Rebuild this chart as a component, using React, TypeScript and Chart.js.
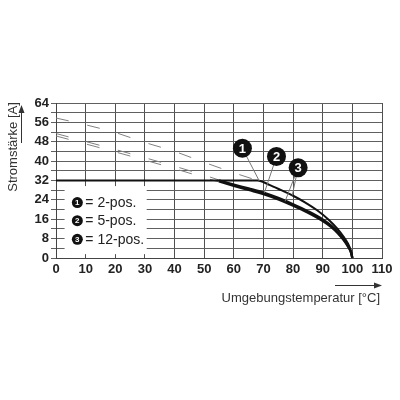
import React, { useEffect, useRef } from "react";
import { Chart, registerables } from "chart.js";

Chart.register(...registerables);

// Curve 1 (2-pos.)
const temp1 = [0, 68, 72, 76, 80, 84, 88, 92, 95, 97, 98.5, 99.5, 100];
const amp1 = [32, 32, 30.2, 28, 25.7, 23, 19.8, 15.8, 12, 8.8, 6, 3, 0];
// Curves 2 (5-pos.) and 3 (12-pos.)
const temp23 = [55, 60, 65, 70, 75, 80, 85, 90, 93, 95, 97, 98.5, 99.5, 100];
const amp2 = [32, 30.3, 28.7, 27, 24.8, 22.2, 19.3, 15.9, 13.2, 10.8, 7.8, 5, 2.5, 0];
const amp3 = [31.6, 29.8, 28.1, 26.4, 24.2, 21.6, 18.7, 15.3, 12.7, 10.4, 7.5, 4.8, 2.4, 0];
// Dashed (unrestricted) continuations
const dashTemp1 = [0, 10, 20, 30, 40, 50, 60, 68];
const dashAmp1 = [57.8, 55, 51.8, 47.7, 44, 39.5, 35.2, 32];
const dashTemp23 = [0, 10, 20, 30, 40, 50, 55];
const dashAmp2 = [51.4, 48.1, 44.8, 41.4, 37.9, 34.2, 32.2];
const dashAmp3 = [50.4, 47.1, 43.8, 40.4, 36.9, 33.2, 31.4];

const legendNums = ["1", "2", "3"];
const legendLabels = ["= 2-pos.", "= 5-pos.", "= 12-pos."];
const xTitle = "Umgebungstemperatur [°C]";
const yTitle = "Stromstärke [A]";

// annotation anchors (data units)
const legendBox = { x0: 2.9, x1: 30.6, y0: 1.6, y1: 29.7 };
const legendAnchorX = 7.2;
const legendAnchorY = [22.9, 15.4, 7.7];
const callouts = [
  { n: "1", cx: 62.9, cy: 45.3, targets: [[68.6, 31.8]] },
  { n: "2", cx: 74.4, cy: 41.9, targets: [[70.3, 26.9]] },
  { n: "3", cx: 81.7, cy: 37.3, targets: [[77.3, 23.4], [79.7, 25.8]] },
];

const pts = (xs: number[], ys: number[]) => xs.map((x, i) => ({ x, y: ys[i] }));

const decor = {
  id: "decor",
  beforeDatasetsDraw(chart: any) {
    const { ctx, scales } = chart;
    const x = scales.x, y = scales.y;
    ctx.save();
    ctx.fillStyle = "#fff";
    const l = x.getPixelForValue(legendBox.x0);
    const r = x.getPixelForValue(legendBox.x1);
    const t = y.getPixelForValue(legendBox.y1);
    const b = y.getPixelForValue(legendBox.y0);
    ctx.fillRect(l, t, r - l, b - t);
    legendNums.forEach((n, i) => {
      const cx = x.getPixelForValue(legendAnchorX);
      const cy = y.getPixelForValue(legendAnchorY[i]);
      ctx.beginPath();
      ctx.fillStyle = "#111";
      ctx.arc(cx, cy, 5.5, 0, Math.PI * 2);
      ctx.fill();
      ctx.fillStyle = "#fff";
      ctx.font = "bold 8px 'Liberation Sans'";
      ctx.textAlign = "center";
      ctx.textBaseline = "middle";
      ctx.fillText(n, cx, cy + 0.5);
      ctx.fillStyle = "#222";
      ctx.font = "14px 'Liberation Sans'";
      ctx.textAlign = "left";
      ctx.fillText(legendLabels[i], cx + 8, cy + 0.5);
    });
    ctx.restore();
  },
  afterDatasetsDraw(chart: any) {
    const { ctx, scales } = chart;
    const x = scales.x, y = scales.y;
    ctx.save();
    callouts.forEach((c) => {
      const cx = x.getPixelForValue(c.cx);
      const cy = y.getPixelForValue(c.cy);
      ctx.strokeStyle = "#777";
      ctx.lineWidth = 1;
      c.targets.forEach(([tx, ty]) => {
        ctx.beginPath();
        ctx.moveTo(cx, cy);
        ctx.lineTo(x.getPixelForValue(tx), y.getPixelForValue(ty));
        ctx.stroke();
      });
      ctx.beginPath();
      ctx.fillStyle = "#111";
      ctx.arc(cx, cy, 9.5, 0, Math.PI * 2);
      ctx.fill();
      ctx.fillStyle = "#fff";
      ctx.font = "bold 13px 'Liberation Sans'";
      ctx.textAlign = "center";
      ctx.textBaseline = "middle";
      ctx.fillText(c.n, cx, cy + 1);
    });
    ctx.restore();
  },
  afterDraw(chart: any) {
    const { ctx } = chart;
    ctx.save();
    ctx.fillStyle = "#333";
    ctx.strokeStyle = "#333";
    ctx.font = "13px 'Liberation Sans'";
    // y title
    ctx.save();
    ctx.translate(13, 147);
    ctx.rotate(-Math.PI / 2);
    ctx.textAlign = "center";
    ctx.textBaseline = "middle";
    ctx.fillText(yTitle, 0, 0);
    ctx.restore();
    ctx.lineWidth = 1;
    ctx.beginPath();
    ctx.moveTo(21.5, 143);
    ctx.lineTo(21.5, 112);
    ctx.stroke();
    ctx.beginPath();
    ctx.moveTo(21.5, 105);
    ctx.lineTo(18.5, 113);
    ctx.lineTo(24.5, 113);
    ctx.closePath();
    ctx.fill();
    // x title
    ctx.textAlign = "right";
    ctx.textBaseline = "middle";
    ctx.fillText(xTitle, 380, 298);
    ctx.beginPath();
    ctx.moveTo(335, 285.5);
    ctx.lineTo(375, 285.5);
    ctx.stroke();
    ctx.beginPath();
    ctx.moveTo(382, 285.5);
    ctx.lineTo(374, 282.5);
    ctx.lineTo(374, 288.5);
    ctx.closePath();
    ctx.fill();
    ctx.restore();
  },
};

export default function App() {
  const ref = useRef<HTMLCanvasElement>(null);
  useEffect(() => {
    if (!ref.current) return;
    const dashStyle = { borderColor: "#808080", borderWidth: 1, borderDash: [13, 19], order: 2 };
    const chart = new Chart(ref.current, {
      type: "line",
      data: {
        datasets: [
          { data: pts(temp1, amp1), borderColor: "#111", borderWidth: 2, order: 0 },
          { data: pts(temp23, amp2), borderColor: "#111", borderWidth: 2.4, order: 0 },
          { data: pts(temp23, amp3), borderColor: "#111", borderWidth: 2.4, order: 0 },
          { data: pts(dashTemp1, dashAmp1), ...dashStyle },
          { data: pts(dashTemp23, dashAmp2), ...dashStyle },
          { data: pts(dashTemp23, dashAmp3), ...dashStyle },
        ] as any,
      },
      options: {
        responsive: false,
        animation: false,
        events: [],
        layout: { padding: { top: 103, right: 18, bottom: 0, left: 0 } },
        elements: {
          point: { radius: 0 },
          line: { cubicInterpolationMode: "monotone", fill: false },
        },
        plugins: { legend: { display: false }, tooltip: { enabled: false }, title: { display: false } },
        scales: {
          x: {
            type: "linear",
            min: 0,
            max: 110,
            afterFit: (s: any) => { s.height = 142; },
            ticks: {
              stepSize: 10,
              autoSkip: false,
              maxRotation: 0,
              padding: 4,
              color: "#222",
              font: { family: "'Liberation Sans'", size: 13, weight: "bold" },
            },
            grid: { color: "#505050", lineWidth: 1, drawTicks: false },
            border: { display: true, color: "#444" },
          },
          y: {
            type: "linear",
            min: 0,
            max: 64,
            afterFit: (s: any) => { s.width = 56; },
            ticks: {
              stepSize: 4,
              autoSkip: false,
              padding: 2,
              color: "#222",
              font: { family: "'Liberation Sans'", size: 13, weight: "bold" },
              callback: (v: any) => (Number(v) % 8 === 0 ? String(v) : ""),
            },
            grid: { color: "#606060", lineWidth: 1, tickLength: 5 },
            border: { display: true, color: "#444" },
          },
        },
      } as any,
      plugins: [decor],
    });
    return () => chart.destroy();
  }, []);
  return (
    <div style={{ position: "fixed", left: 0, top: 0, width: 400, height: 400, background: "#fff" }}>
      <canvas ref={ref} width={400} height={400} />
    </div>
  );
}
